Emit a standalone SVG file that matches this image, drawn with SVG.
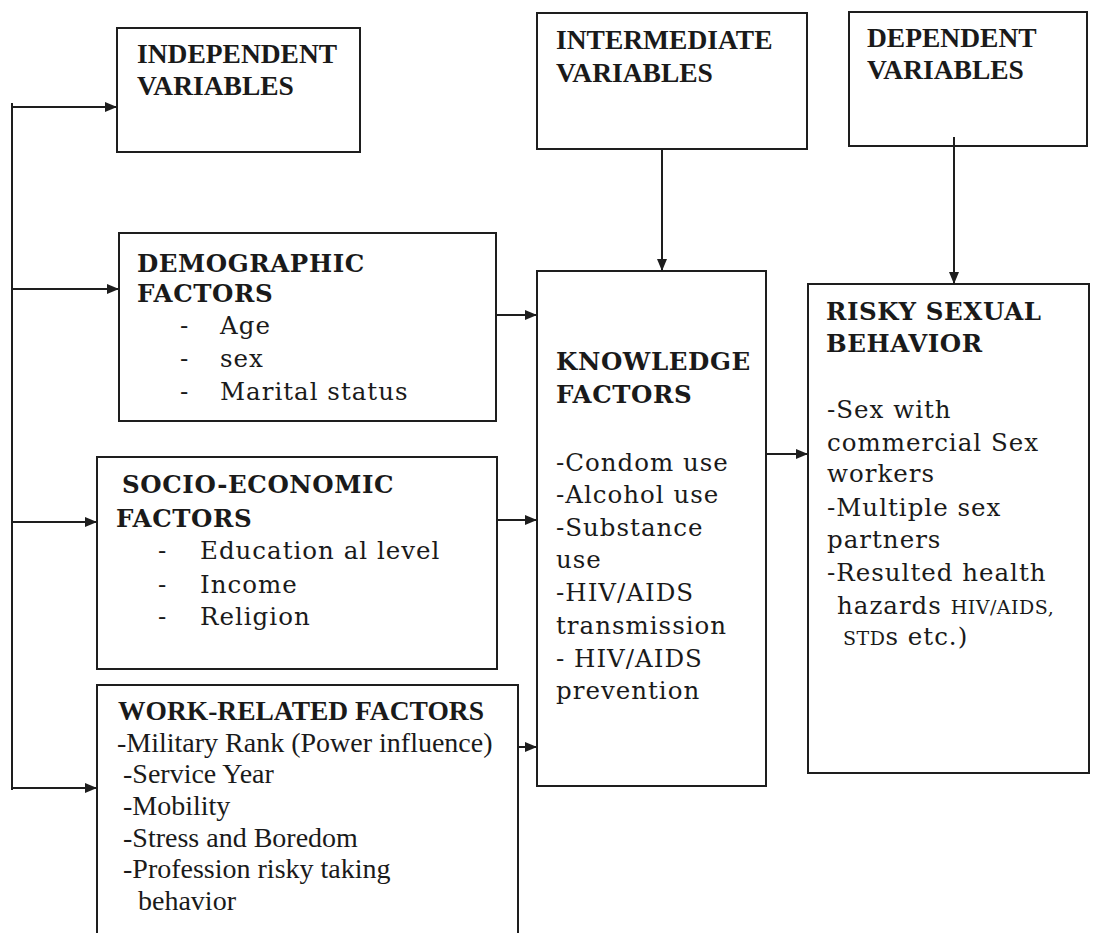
<svg xmlns="http://www.w3.org/2000/svg" width="1096" height="933" viewBox="0 0 1096 933">
<style>
.box{fill:none;stroke:#1e1e1e;stroke-width:2}
.ln{fill:none;stroke:#1e1e1e;stroke-width:2}
.h{font-family:"Liberation Serif",serif;font-weight:bold;font-size:27.5px;fill:#1a1a1a}
.t{font-family:"Liberation Serif",serif;font-size:28px;fill:#1a1a1a}
.bh{font-family:"DejaVu Serif",serif;font-weight:bold;font-size:24.5px;letter-spacing:0.6px;fill:#1a1a1a}
.b{font-family:"DejaVu Serif",serif;font-size:24.5px;letter-spacing:1px;fill:#1a1a1a}
.sc{font-size:19px;letter-spacing:0.5px}
</style>
<defs>
<marker id="arr" markerWidth="12" markerHeight="10" refX="11" refY="5" orient="auto" markerUnits="userSpaceOnUse">
<path d="M0,0 L12,5 L0,10 z" fill="#1e1e1e"/>
</marker>
</defs>
<rect width="1096" height="933" fill="#ffffff"/>

<g id="independent">
<rect class="box" x="117" y="28" width="243" height="124"/>
<text class="h" x="137" y="63">INDEPENDENT</text>
<text class="h" x="137" y="95">VARIABLES</text>
</g>

<g id="intermediate">
<rect class="box" x="537" y="13" width="270" height="136"/>
<text class="h" x="556" y="49">INTERMEDIATE</text>
<text class="h" x="556" y="82">VARIABLES</text>
</g>

<g id="dependent">
<rect class="box" x="849" y="12" width="238" height="134"/>
<text class="h" x="867" y="47">DEPENDENT</text>
<text class="h" x="867" y="79">VARIABLES</text>
</g>

<g id="demographic">
<rect class="box" x="119" y="233" width="377" height="188"/>
<text class="bh" x="137" y="272">DEMOGRAPHIC</text>
<text class="bh" x="137" y="302">FACTORS</text>
<text class="b" x="180" y="334">-</text><text class="b" x="220" y="334">Age</text>
<text class="b" x="180" y="367">-</text><text class="b" x="220" y="367">sex</text>
<text class="b" x="180" y="400">-</text><text class="b" x="220" y="400">Marital status</text>
</g>

<g id="socioeconomic">
<rect class="box" x="97" y="457" width="400" height="212"/>
<text class="bh" x="122" y="493">SOCIO-ECONOMIC</text>
<text class="bh" x="116" y="527">FACTORS</text>
<text class="b" x="158" y="559">-</text><text class="b" x="200" y="559">Education al level</text>
<text class="b" x="158" y="593">-</text><text class="b" x="200" y="593">Income</text>
<text class="b" x="158" y="625">-</text><text class="b" x="200" y="625">Religion</text>
</g>

<g id="work">
<path class="box" d="M97,945 V685 H518 V945"/>
<text class="h" x="118" y="720">WORK-RELATED FACTORS</text>
<text class="t" x="117" y="752">-Military Rank (Power influence)</text>
<text class="t" x="123" y="783">-Service Year</text>
<text class="t" x="123" y="815">-Mobility</text>
<text class="t" x="123" y="847">-Stress and Boredom</text>
<text class="t" x="123" y="878">-Profession risky taking</text>
<text class="t" x="138" y="910">behavior</text>
</g>

<g id="knowledge">
<rect class="box" x="537" y="271" width="229" height="515"/>
<text class="bh" x="556" y="370">KNOWLEDGE</text>
<text class="bh" x="556" y="403">FACTORS</text>
<text class="b" x="556" y="471">-Condom use</text>
<text class="b" x="556" y="503">-Alcohol use</text>
<text class="b" x="556" y="536">-Substance</text>
<text class="b" x="556" y="568">use</text>
<text class="b" x="556" y="601">-HIV/AIDS</text>
<text class="b" x="556" y="634">transmission</text>
<text class="b" x="556" y="667">- HIV/AIDS</text>
<text class="b" x="556" y="699">prevention</text>
</g>

<g id="risky">
<rect class="box" x="808" y="284" width="281" height="489"/>
<text class="bh" x="826" y="320">RISKY SEXUAL</text>
<text class="bh" x="826" y="352">BEHAVIOR</text>
<text class="b" x="827" y="418">-Sex with</text>
<text class="b" x="827" y="451">commercial Sex</text>
<text class="b" x="827" y="482">workers</text>
<text class="b" x="827" y="516">-Multiple sex</text>
<text class="b" x="827" y="548">partners</text>
<text class="b" x="827" y="581">-Resulted health</text>
<text class="b" x="837" y="614">hazards <tspan class="sc">HIV/AIDS,</tspan></text>
<text class="b" x="843" y="645"><tspan class="sc">STD</tspan>s etc.)</text>
</g>

<g id="connectors">
<path class="ln" d="M12,103 V790"/>
<path class="ln" d="M12,107 H116" marker-end="url(#arr)"/>
<path class="ln" d="M12,289 H118" marker-end="url(#arr)"/>
<path class="ln" d="M12,522 H96" marker-end="url(#arr)"/>
<path class="ln" d="M12,788 H96" marker-end="url(#arr)"/>
<path class="ln" d="M496,315 H536" marker-end="url(#arr)"/>
<path class="ln" d="M497,520 H536" marker-end="url(#arr)"/>
<path class="ln" d="M518,747 H536" marker-end="url(#arr)"/>
<path class="ln" d="M766,454 H807" marker-end="url(#arr)"/>
<path class="ln" d="M662,149 V270" marker-end="url(#arr)"/>
<path class="ln" d="M954,137 V283" marker-end="url(#arr)"/>
</g>
</svg>
